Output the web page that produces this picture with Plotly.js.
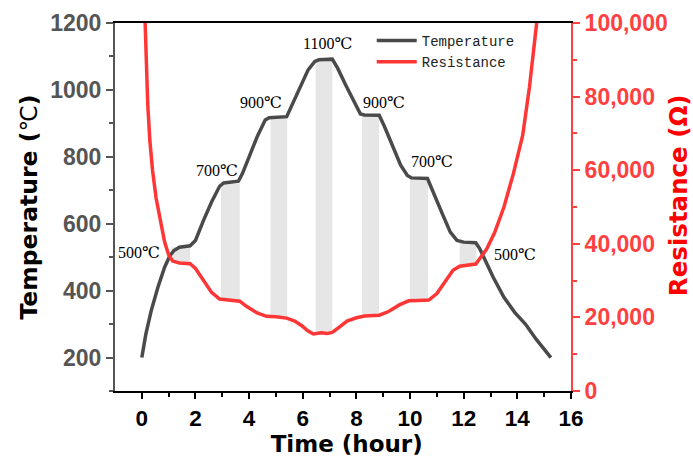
<!DOCTYPE html>
<html>
<head>
<meta charset="utf-8">
<script src="https://cdn.plot.ly/plotly-3.0.1.min.js"></script>
<style>html,body{margin:0;padding:0;background:#fff;}#chart{width:693px;height:457px;}</style>
</head>
<body>
<div id="chart"></div>
<script>
// ---- data ----
const tempHours = [0,0.15,0.35,0.6,0.85,1.05,1.2,1.4,1.8,2.0,2.3,2.6,2.9,3.05,3.6,3.75,4.0,4.3,4.6,4.75,5.4,5.6,5.9,6.2,6.45,6.6,7.1,7.3,7.6,7.9,8.15,8.3,8.85,9.05,9.35,9.65,9.9,10.05,10.65,10.9,11.2,11.5,11.75,12.0,12.45,12.6,12.8,13.1,13.5,13.9,14.3,14.7,15.25];
const tempValues = [200,270,340,410,470,505,520,530,534,550,610,665,712,722,727,750,800,860,910,917,920,955,1010,1060,1085,1090,1092,1065,1015,965,928,925,924,890,830,775,744,737,735,690,630,575,550,545,543,525,490,440,380,335,300,255,200];

const resHours = [0.08,0.12,0.16,0.22,0.3,0.4,0.53,0.7,0.85,1.0,1.15,1.4,1.8,2.0,2.3,2.6,2.9,3.3,3.65,3.9,4.3,4.65,5.0,5.4,5.7,5.95,6.2,6.4,6.7,6.9,7.1,7.35,7.65,8.0,8.3,8.85,9.2,9.6,9.95,10.3,10.7,11.0,11.3,11.6,11.85,12.2,12.45,12.65,12.85,13.15,13.5,13.85,14.2,14.45,14.65,14.72,14.78];
const resValues = [110000,100000,92000,78000,68000,60000,52500,45500,40500,37000,35300,34800,34600,33300,30000,26800,25000,24700,24400,23000,21200,20300,20200,19800,19000,17800,16300,15500,15800,15600,15900,17300,19000,19900,20400,20600,21600,23400,24500,24600,24700,26500,29500,32800,33900,34300,34500,36500,38500,43000,50000,59000,69500,82500,96000,100000,110000];

// hold plateaus (shaded bands)
const plateauStart = [1.1, 2.95, 4.8, 6.48, 8.21, 9.99, 11.85];
const plateauEnd   = [1.8, 3.65, 5.42, 7.1, 8.84, 10.67, 12.47];
const plateauTemp  = [530, 720, 917, 1088, 925, 738, 544];
const plateauRes   = [34800, 24500, 20100, 15600, 20500, 24600, 34300];
const plateauLabels = ['500℃','700℃','900℃','1100℃','900℃','700℃','500℃'];
const labelX = [-0.09, 2.82, 4.45, 6.92, 9.01, 10.8, 13.92];
const labelY = [514, 760, 961, 1138, 963, 787, 508];

// ---- layout helpers ----
const yRange = [100, 1200];
const y2Range = [0, 100000];
const resToY = r => yRange[0] + (r - y2Range[0]) / (y2Range[1] - y2Range[0]) * (yRange[1] - yRange[0]);

const shapes = plateauStart.map((s, i) => ({
  type: 'rect', xref: 'x', yref: 'y', layer: 'below',
  x0: s, x1: plateauEnd[i], y0: resToY(plateauRes[i]), y1: plateauTemp[i],
  fillcolor: '#e6e6e6', line: {width: 0}
}));

const annotations = plateauLabels.map((t, i) => ({
  x: labelX[i], y: labelY[i], xref: 'x', yref: 'y', text: t, showarrow: false,
  font: {family: 'Liberation Serif, DejaVu Serif, serif', size: 16, color: '#000'}
}));

const traces = [
  {x: tempHours, y: tempValues, name: 'Temperature', type: 'scatter', mode: 'lines',
   line: {color: '#4a4a4a', width: 3.5}, yaxis: 'y'},
  {x: resHours, y: resValues, name: 'Resistance', type: 'scatter', mode: 'lines',
   line: {color: '#ff3636', width: 3.5}, yaxis: 'y2'}
];

const tickFont = {family: 'Liberation Sans, Arial, sans-serif', size: 23};
const titleFamily = 'DejaVu Sans, Liberation Sans, sans-serif';

const layout = {
  width: 693, height: 457,
  margin: {l: 115, r: 122, t: 23, b: 66},
  paper_bgcolor: '#fff', plot_bgcolor: '#fff',
  showlegend: true,
  legend: {x: 0.563, y: 0.995, xanchor: 'left', yanchor: 'top', bgcolor: 'rgba(0,0,0,0)',
           font: {family: 'Liberation Mono, DejaVu Sans Mono, monospace', size: 14, color: '#222'},
           tracegroupgap: 0, itemwidth: 40},
  xaxis: {
    range: [-1, 16], tickvals: [0,2,4,6,8,10,12,14,16], showgrid: false, zeroline: false,
    showline: true, linecolor: '#000', linewidth: 2, mirror: true,
    ticks: 'outside', ticklen: 6, tickwidth: 2, tickcolor: '#000',
    minor: {tickvals: [1,3,5,7,9,11,13,15], ticks: 'outside', ticklen: 4, tickwidth: 2, tickcolor: '#000'},
    tickfont: {family: tickFont.family, size: 22.5, color: '#000', weight: 'bold'},
    title: {text: '&nbsp;<b>Time (hour)</b>', font: {family: titleFamily, size: 23, color: '#000'}, standoff: 12}
  },
  yaxis: {
    range: yRange, tickvals: [200,400,600,800,1000,1200], showgrid: false, zeroline: false,
    showline: true, linecolor: '#555', linewidth: 2,
    ticks: 'outside', ticklen: 7, tickwidth: 2, tickcolor: '#555',
    minor: {dtick: 100, ticks: 'outside', ticklen: 4, tickwidth: 2, tickcolor: '#555'},
    tickfont: Object.assign({color: '#555', weight: 'bold'}, tickFont),
    title: {text: '<b>Temperature (</b>℃<b>)</b>', font: {family: titleFamily, size: 23.5, color: '#000'}, standoff: 6}
  },
  yaxis2: {
    range: y2Range, overlaying: 'y', side: 'right', tickvals: [0,20000,40000,60000,80000,100000],
    tickformat: ',d', showgrid: false, zeroline: false,
    showline: true, linecolor: '#ff4040', linewidth: 2,
    ticks: 'outside', ticklen: 7, tickwidth: 2, tickcolor: '#ff4040',
    minor: {dtick: 10000, ticks: 'outside', ticklen: 4, tickwidth: 2, tickcolor: '#ff4040'},
    tickfont: Object.assign({color: '#ff4040', weight: 'bold'}, tickFont),
    title: {text: '&nbsp;&nbsp;&nbsp;<b>Resistance (Ω)</b>', font: {family: titleFamily, size: 24.5, color: '#ff0000'}, standoff: 6}
  },
  shapes: shapes,
  annotations: annotations
};

Plotly.newPlot('chart', traces, layout, {staticPlot: true, displayModeBar: false});
</script>
</body>
</html>
